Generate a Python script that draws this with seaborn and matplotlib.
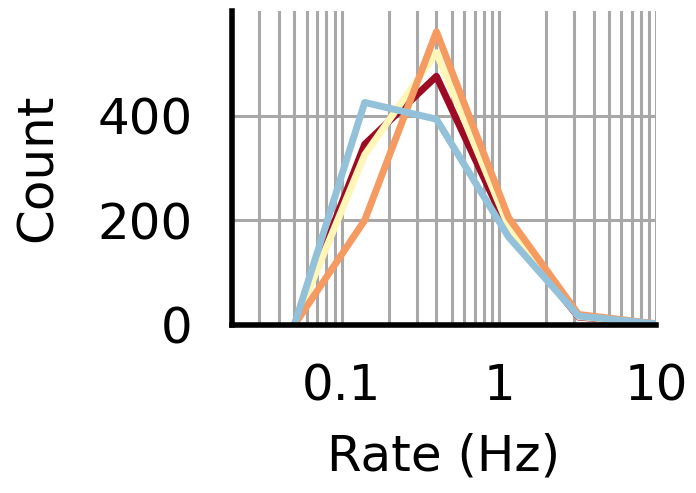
import matplotlib
matplotlib.use("Agg")
import matplotlib.pyplot as plt
import matplotlib.ticker as mticker
import numpy as np
import pandas as pd
import seaborn as sns

# Firing-rate bins (Hz) and counts for each condition
rate_hz = [0.05, 0.14, 0.4, 1.15, 3.2, 10.0]
count_red = [0, 345, 475, 180, 15, 2]
count_yellow = [0, 325, 520, 188, 16, 2]
count_orange = [0, 200, 560, 205, 20, 2]
count_blue = [0, 425, 393, 168, 17, 2]

series_names = ["c1", "c2", "c3", "c4"]
series_values = [count_red, count_yellow, count_orange, count_blue]
series_colors = ["#9c0a24", "#fff6b8", "#f59b62", "#93c1d9"]

df = pd.concat(
    [pd.DataFrame({"rate": rate_hz, "count": vals, "group": name})
     for name, vals in zip(series_names, series_values)],
    ignore_index=True,
)

sns.set_theme(style="white")
plt.rcParams["font.family"] = ["DejaVu Sans"]

fig = plt.figure(figsize=(6.96, 4.93), dpi=100)
ax = fig.add_axes([0.333, 0.341, 0.61, 0.637])

sns.lineplot(data=df, x="rate", y="count", hue="group", palette=series_colors,
             linewidth=5, legend=False, ax=ax, zorder=3)

ax.set_xscale("log")
ax.set_xlim(0.02, 10)
ax.set_ylim(0, 600)
ax.set_xticks([0.1, 1, 10])
ax.set_xticklabels(["0.1", "1", "10"])
ax.xaxis.set_minor_locator(mticker.LogLocator(base=10, subs=np.arange(2, 10)))
ax.xaxis.set_minor_formatter(mticker.NullFormatter())
ax.set_yticks([0, 200, 400])

ax.grid(True, which="both", axis="x", color="#a8a8a8", linewidth=2.2)
ax.grid(True, which="major", axis="y", color="#a8a8a8", linewidth=2.2)
ax.set_axisbelow(True)

for side in ["top", "right"]:
    ax.spines[side].set_visible(False)
for side in ["left", "bottom"]:
    ax.spines[side].set_color("black")
    ax.spines[side].set_linewidth(4)
    ax.spines[side].set_zorder(5)

ax.tick_params(axis="both", which="both", length=0, labelsize=36, colors="black")
ax.tick_params(axis="x", pad=27)
ax.tick_params(axis="y", pad=28)

ax.set_xlabel("Rate (Hz)", fontsize=36, labelpad=16, color="black")
ax.set_ylabel("Count", fontsize=36, labelpad=26, color="black")

fig.savefig("out.png", dpi=100)
